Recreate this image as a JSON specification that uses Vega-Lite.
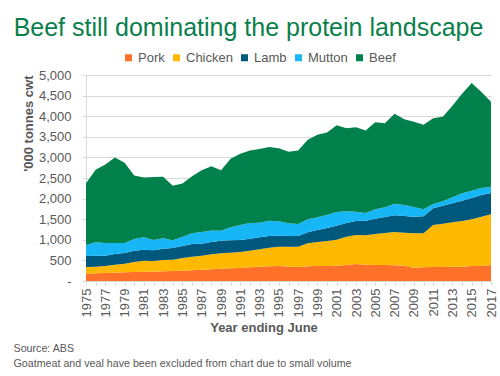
{
  "$schema": "https://vega.github.io/schema/vega-lite/v6.json",
  "width": 405,
  "height": 206,
  "autosize": {"type": "none"},
  "padding": {"left": 86, "top": 75, "right": 9, "bottom": 95},
  "background": "white",
  "config": {"font": "Liberation Sans", "view": {"stroke": null}},
  "title": {"text": "Beef still dominating the protein landscape", "fontSize": 25, "fontWeight": "normal", "color": "#0A7F4B", "anchor": "middle", "frame": "group", "dx": -40, "offset": 10},
  "data": {"values": [
    {"year":1975,"meat":"Pork","value":178},{"year":1975,"meat":"Chicken","value":162},{"year":1975,"meat":"Lamb","value":267},{"year":1975,"meat":"Mutton","value":267},{"year":1975,"meat":"Beef","value":1496},
    {"year":1976,"meat":"Pork","value":186},{"year":1976,"meat":"Chicken","value":162},{"year":1976,"meat":"Lamb","value":267},{"year":1976,"meat":"Mutton","value":323},{"year":1976,"meat":"Beef","value":1762},
    {"year":1977,"meat":"Pork","value":194},{"year":1977,"meat":"Chicken","value":170},{"year":1977,"meat":"Lamb","value":251},{"year":1977,"meat":"Mutton","value":307},{"year":1977,"meat":"Beef","value":1903},
    {"year":1978,"meat":"Pork","value":202},{"year":1978,"meat":"Chicken","value":194},{"year":1978,"meat":"Lamb","value":259},{"year":1978,"meat":"Mutton","value":267},{"year":1978,"meat":"Beef","value":2078},
    {"year":1979,"meat":"Pork","value":210},{"year":1979,"meat":"Chicken","value":211},{"year":1979,"meat":"Lamb","value":259},{"year":1979,"meat":"Mutton","value":242},{"year":1979,"meat":"Beef","value":1948},
    {"year":1980,"meat":"Pork","value":218},{"year":1980,"meat":"Chicken","value":243},{"year":1980,"meat":"Lamb","value":275},{"year":1980,"meat":"Mutton","value":283},{"year":1980,"meat":"Beef","value":1541},
    {"year":1981,"meat":"Pork","value":227},{"year":1981,"meat":"Chicken","value":266},{"year":1981,"meat":"Lamb","value":267},{"year":1981,"meat":"Mutton","value":300},{"year":1981,"meat":"Beef","value":1450},
    {"year":1982,"meat":"Pork","value":227},{"year":1982,"meat":"Chicken","value":258},{"year":1982,"meat":"Lamb","value":259},{"year":1982,"meat":"Mutton","value":251},{"year":1982,"meat":"Beef","value":1532},
    {"year":1983,"meat":"Pork","value":235},{"year":1983,"meat":"Chicken","value":275},{"year":1983,"meat":"Lamb","value":275},{"year":1983,"meat":"Mutton","value":251},{"year":1983,"meat":"Beef","value":1494},
    {"year":1984,"meat":"Pork","value":243},{"year":1984,"meat":"Chicken","value":275},{"year":1984,"meat":"Lamb","value":283},{"year":1984,"meat":"Mutton","value":186},{"year":1984,"meat":"Beef","value":1323},
    {"year":1985,"meat":"Pork","value":251},{"year":1985,"meat":"Chicken","value":307},{"year":1985,"meat":"Lamb","value":292},{"year":1985,"meat":"Mutton","value":226},{"year":1985,"meat":"Beef","value":1290},
    {"year":1986,"meat":"Pork","value":259},{"year":1986,"meat":"Chicken","value":332},{"year":1986,"meat":"Lamb","value":307},{"year":1986,"meat":"Mutton","value":259},{"year":1986,"meat":"Beef","value":1386},
    {"year":1987,"meat":"Pork","value":275},{"year":1987,"meat":"Chicken","value":340},{"year":1987,"meat":"Lamb","value":291},{"year":1987,"meat":"Mutton","value":283},{"year":1987,"meat":"Beef","value":1498},
    {"year":1988,"meat":"Pork","value":287},{"year":1988,"meat":"Chicken","value":363},{"year":1988,"meat":"Lamb","value":295},{"year":1988,"meat":"Mutton","value":280},{"year":1988,"meat":"Beef","value":1559},
    {"year":1989,"meat":"Pork","value":299},{"year":1989,"meat":"Chicken","value":372},{"year":1989,"meat":"Lamb","value":308},{"year":1989,"meat":"Mutton","value":243},{"year":1989,"meat":"Beef","value":1465},
    {"year":1990,"meat":"Pork","value":307},{"year":1990,"meat":"Chicken","value":381},{"year":1990,"meat":"Lamb","value":299},{"year":1990,"meat":"Mutton","value":315},{"year":1990,"meat":"Beef","value":1666},
    {"year":1991,"meat":"Pork","value":316},{"year":1991,"meat":"Chicken","value":388},{"year":1991,"meat":"Lamb","value":291},{"year":1991,"meat":"Mutton","value":364},{"year":1991,"meat":"Beef","value":1730},
    {"year":1992,"meat":"Pork","value":332},{"year":1992,"meat":"Chicken","value":404},{"year":1992,"meat":"Lamb","value":291},{"year":1992,"meat":"Mutton","value":381},{"year":1992,"meat":"Beef","value":1761},
    {"year":1993,"meat":"Pork","value":348},{"year":1993,"meat":"Chicken","value":421},{"year":1993,"meat":"Lamb","value":291},{"year":1993,"meat":"Mutton","value":356},{"year":1993,"meat":"Beef","value":1785},
    {"year":1994,"meat":"Pork","value":356},{"year":1994,"meat":"Chicken","value":453},{"year":1994,"meat":"Lamb","value":283},{"year":1994,"meat":"Mutton","value":372},{"year":1994,"meat":"Beef","value":1786},
    {"year":1995,"meat":"Pork","value":364},{"year":1995,"meat":"Chicken","value":469},{"year":1995,"meat":"Lamb","value":267},{"year":1995,"meat":"Mutton","value":348},{"year":1995,"meat":"Beef","value":1777},
    {"year":1996,"meat":"Pork","value":348},{"year":1996,"meat":"Chicken","value":485},{"year":1996,"meat":"Lamb","value":259},{"year":1996,"meat":"Mutton","value":308},{"year":1996,"meat":"Beef","value":1735},
    {"year":1997,"meat":"Pork","value":340},{"year":1997,"meat":"Chicken","value":493},{"year":1997,"meat":"Lamb","value":259},{"year":1997,"meat":"Mutton","value":291},{"year":1997,"meat":"Beef","value":1786},
    {"year":1998,"meat":"Pork","value":356},{"year":1998,"meat":"Chicken","value":558},{"year":1998,"meat":"Lamb","value":267},{"year":1998,"meat":"Mutton","value":316},{"year":1998,"meat":"Beef","value":1929},
    {"year":1999,"meat":"Pork","value":364},{"year":1999,"meat":"Chicken","value":583},{"year":1999,"meat":"Lamb","value":291},{"year":1999,"meat":"Mutton","value":307},{"year":1999,"meat":"Beef","value":2002},
    {"year":2000,"meat":"Pork","value":364},{"year":2000,"meat":"Chicken","value":607},{"year":2000,"meat":"Lamb","value":315},{"year":2000,"meat":"Mutton","value":324},{"year":2000,"meat":"Beef","value":1993},
    {"year":2001,"meat":"Pork","value":372},{"year":2001,"meat":"Chicken","value":631},{"year":2001,"meat":"Lamb","value":340},{"year":2001,"meat":"Mutton","value":332},{"year":2001,"meat":"Beef","value":2104},
    {"year":2002,"meat":"Pork","value":388},{"year":2002,"meat":"Chicken","value":688},{"year":2002,"meat":"Lamb","value":332},{"year":2002,"meat":"Mutton","value":287},{"year":2002,"meat":"Beef","value":2012},
    {"year":2003,"meat":"Pork","value":413},{"year":2003,"meat":"Chicken","value":703},{"year":2003,"meat":"Lamb","value":340},{"year":2003,"meat":"Mutton","value":224},{"year":2003,"meat":"Beef","value":2051},
    {"year":2004,"meat":"Pork","value":396},{"year":2004,"meat":"Chicken","value":712},{"year":2004,"meat":"Lamb","value":356},{"year":2004,"meat":"Mutton","value":186},{"year":2004,"meat":"Beef","value":2001},
    {"year":2005,"meat":"Pork","value":388},{"year":2005,"meat":"Chicken","value":753},{"year":2005,"meat":"Lamb","value":372},{"year":2005,"meat":"Mutton","value":226},{"year":2005,"meat":"Beef","value":2113},
    {"year":2006,"meat":"Pork","value":388},{"year":2006,"meat":"Chicken","value":777},{"year":2006,"meat":"Lamb","value":388},{"year":2006,"meat":"Mutton","value":235},{"year":2006,"meat":"Beef","value":2040},
    {"year":2007,"meat":"Pork","value":380},{"year":2007,"meat":"Chicken","value":809},{"year":2007,"meat":"Lamb","value":405},{"year":2007,"meat":"Mutton","value":283},{"year":2007,"meat":"Beef","value":2183},
    {"year":2008,"meat":"Pork","value":372},{"year":2008,"meat":"Chicken","value":801},{"year":2008,"meat":"Lamb","value":405},{"year":2008,"meat":"Mutton","value":267},{"year":2008,"meat":"Beef","value":2079},
    {"year":2009,"meat":"Pork","value":324},{"year":2009,"meat":"Chicken","value":833},{"year":2009,"meat":"Lamb","value":404},{"year":2009,"meat":"Mutton","value":235},{"year":2009,"meat":"Beef","value":2072},
    {"year":2010,"meat":"Pork","value":332},{"year":2010,"meat":"Chicken","value":825},{"year":2010,"meat":"Lamb","value":412},{"year":2010,"meat":"Mutton","value":170},{"year":2010,"meat":"Beef","value":2056},
    {"year":2011,"meat":"Pork","value":340},{"year":2011,"meat":"Chicken","value":1019},{"year":2011,"meat":"Lamb","value":405},{"year":2011,"meat":"Mutton","value":105},{"year":2011,"meat":"Beef","value":2079},
    {"year":2012,"meat":"Pork","value":340},{"year":2012,"meat":"Chicken","value":1052},{"year":2012,"meat":"Lamb","value":436},{"year":2012,"meat":"Mutton","value":106},{"year":2012,"meat":"Beef","value":2054},
    {"year":2013,"meat":"Pork","value":348},{"year":2013,"meat":"Chicken","value":1076},{"year":2013,"meat":"Lamb","value":461},{"year":2013,"meat":"Mutton","value":146},{"year":2013,"meat":"Beef","value":2222},
    {"year":2014,"meat":"Pork","value":348},{"year":2014,"meat":"Chicken","value":1108},{"year":2014,"meat":"Lamb","value":494},{"year":2014,"meat":"Mutton","value":178},{"year":2014,"meat":"Beef","value":2414},
    {"year":2015,"meat":"Pork","value":364},{"year":2015,"meat":"Chicken","value":1133},{"year":2015,"meat":"Lamb","value":517},{"year":2015,"meat":"Mutton","value":178},{"year":2015,"meat":"Beef","value":2615},
    {"year":2016,"meat":"Pork","value":364},{"year":2016,"meat":"Chicken","value":1197},{"year":2016,"meat":"Lamb","value":526},{"year":2016,"meat":"Mutton","value":170},{"year":2016,"meat":"Beef","value":2333},
    {"year":2017,"meat":"Pork","value":388},{"year":2017,"meat":"Chicken","value":1230},{"year":2017,"meat":"Lamb","value":518},{"year":2017,"meat":"Mutton","value":153},{"year":2017,"meat":"Beef","value":2061}
  ]},
  "transform": [{"calculate": "indexof(['Pork','Chicken','Lamb','Mutton','Beef'], datum.meat)", "as": "ord"}],
  "layer": [
    {
      "mark": {"type": "area", "interpolate": "linear"},
      "encoding": {
        "x": {"field": "year", "type": "ordinal", "scale": {"type": "point", "padding": 0},
          "axis": {"title": "Year ending June", "titleFontSize": 13, "titleFontWeight": "bold", "titleColor": "#595959", "titleX": 177.5, "titleY": 50.7, "titleBaseline": "alphabetic", "titleAlign": "center", "titleAnchor": null,
            "labelAngle": 270, "labelFontSize": 13, "labelColor": "#595959", "labelExpr": "datum.value % 2 == 1 ? datum.label : ''", "labelOverlap": false, "labelPadding": 3,
            "tickSize": 4, "tickColor": "#D9D9D9", "domainColor": "#D9D9D9", "grid": false}},
        "y": {"field": "value", "type": "quantitative", "stack": "zero", "scale": {"domain": [0, 5000]},
          "axis": {"values": [0,500,1000,1500,2000,2500,3000,3500,4000,4500,5000], "format": ",.0f", "labelExpr": "datum.value == 0 ? '-\u00a0\u00a0' : datum.label",
            "title": "'000 tonnes cwt", "titleAnchor": "end", "titleFontSize": 13, "titleFontWeight": "bold", "titleColor": "#595959", "titlePadding": 3,
            "labelFontSize": 13, "labelColor": "#595959", "labelPadding": 11, "tickSize": 4, "tickColor": "#D9D9D9", "domainColor": "#D9D9D9", "gridColor": "#D9D9D9", "grid": true}},
        "color": {"field": "meat", "type": "nominal",
          "scale": {"domain": ["Pork","Chicken","Lamb","Mutton","Beef"], "range": ["#FF7128","#FFB900","#00587D","#17B7F7","#00804A"]},
          "legend": {"orient": "none", "legendX": 36, "legendY": -24, "direction": "horizontal", "title": null, "symbolType": "square", "symbolSize": 49, "symbolStrokeWidth": 0,
            "labelFontSize": 13, "labelColor": "#595959", "columnPadding": 5, "labelOffset": 3}},
        "order": {"field": "ord", "type": "quantitative", "sort": "ascending"}
      }
    },
    {
      "mark": {"type": "point", "opacity": 0},
      "encoding": {
        "x": {"field": "year", "type": "ordinal",
          "axis": {"orient": "bottom", "labels": false, "ticks": false, "domain": false, "grid": false,
            "title": ["Source: ABS", "Goatmeat and veal have been excluded from chart due to small volume"],
            "titleFontSize": 10.7, "titleFontWeight": "normal", "titleColor": "#595959", "titleAlign": "left", "titleAnchor": null, "titleX": -73, "titleY": 70, "titleBaseline": "alphabetic", "titleLineHeight": 15}}
      }
    }
  ],
  "resolve": {"axis": {"x": "independent"}}
}
